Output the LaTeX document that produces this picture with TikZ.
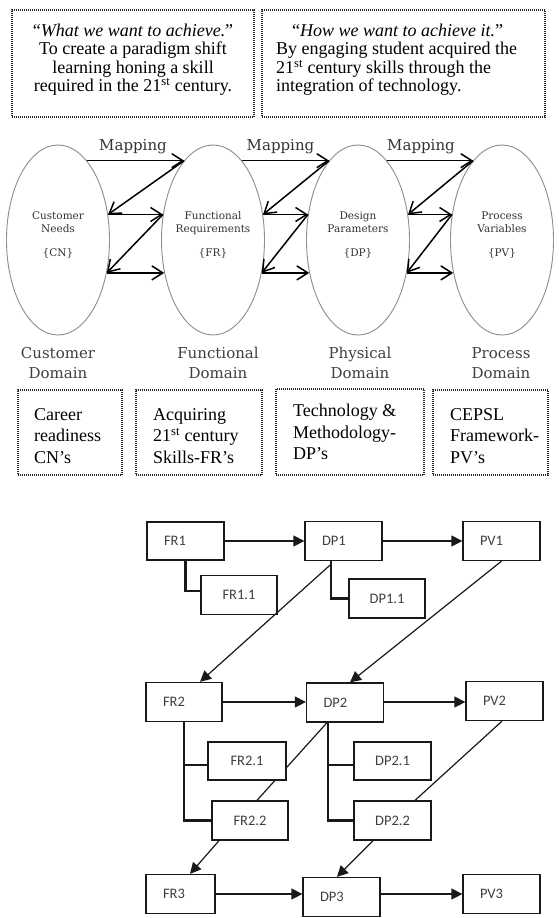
\documentclass[tikz,border=0pt]{standalone}
\usepackage{fontspec}
\setmainfont{Liberation Serif}
\newfontfamily\slabfont{DejaVu Serif}
\newfontfamily\calfont{Carlito}
\usetikzlibrary{arrows.meta,shapes.geometric,backgrounds}
\begin{document}
\begin{tikzpicture}[x=1pt,y=-1pt,
  dotbox/.style={draw=black!85, line width=1.1pt, dash pattern=on 1pt off 1pt, rectangle, inner sep=0pt},
  toptext/.style={inner sep=0pt, font=\fontsize{18}{18.6}\selectfont},
  rowtext/.style={inner sep=0pt, anchor=north west, align=left, font=\fontsize{18}{21.5}\selectfont},
  ellbox/.style={ellipse, draw=black!45, line width=0.9pt, minimum width=103pt, minimum height=190pt, inner sep=0pt},
  elltext/.style={inner sep=0pt, anchor=north, align=center, text=black!80, font=\slabfont\fontsize{10.5}{13}\selectfont},
  domtext/.style={inner sep=0pt, anchor=north, align=center, text=black!75, font=\slabfont\fontsize{15}{20}\selectfont},
  maptext/.style={inner sep=0pt, anchor=base, text=black!80, font=\slabfont\fontsize{15}{18}\selectfont},
  marrow/.style={line width=1.5pt, -{Straight Barb[length=11pt,width=14pt]}},
  fbox/.style={rectangle, draw=black!90, line width=1.3pt, fill=white, minimum height=39pt, inner sep=0pt, text=black!75, font=\calfont\fontsize{14.5}{17}\selectfont},
  mainb/.style={fbox, text width=43pt, inner xsep=17pt, align=left},
  subb/.style={fbox, minimum width=77pt, align=center},
  tree/.style={line width=2.4pt, black!90},
  diag/.style={line width=1.2pt, black!90},
  tipd/.style={diag, -{Triangle[length=11pt,width=11pt]}},
  harrow/.style={line width=1.4pt, black!90, -{Triangle[length=11pt,width=11pt]}}
]
\useasboundingbox (0,0) rectangle (558,918);

% ---------- top dotted boxes ----------
\node[dotbox, minimum width=242pt, minimum height=107pt] (top1) at (133,63.5) {};
\node[dotbox, minimum width=283pt, minimum height=107pt] (top2) at (403.5,63.5) {};
\node[toptext, align=center, anchor=north] (top1txt) at (133,23.5)
  {“\textit{What we want to achieve.}”\\To create a paradigm shift\\learning honing a skill\\required in the 21\textsuperscript{st} century.};
\node[toptext, align=left, anchor=north west] (top2txt) at (276,23.5)
  {\hspace*{16pt}“\textit{How we want to achieve it.}”\\By engaging student acquired the\\21\textsuperscript{st} century skills through the\\integration of technology.};

% ---------- domains ----------
\node[ellbox] (CN) at (58,240) {};
\node[ellbox] (FR) at (213,240) {};
\node[ellbox] (DP) at (358,240) {};
\node[ellbox] (PV) at (502,240) {};
\node[elltext] (CNt) at (58,211.8) {Customer\\Needs\\[10.5pt]\{CN\}};
\node[elltext] (FRt) at (213,211.8) {Functional\\Requirements\\[10.5pt]\{FR\}};
\node[elltext] (DPt) at (358,211.8) {Design\\Parameters\\[10.5pt]\{DP\}};
\node[elltext] (PVt) at (502,211.8) {Process\\Variables\\[10.5pt]\{PV\}};

\node[maptext] (map1) at (133,150) {Mapping};
\node[maptext] (map2) at (280.5,150) {Mapping};
\node[maptext] (map3) at (421,150) {Mapping};

\foreach \a/\b in {CN/FR, FR/DP, DP/PV} {
  \draw[marrow] (\a.70) -- (\b.110);
  \draw[marrow] (\b.110) -- (\a.27);
  \draw[marrow] (\a.27) -- (\b.153);
  \draw[marrow] (\b.153) -- (\a.-34);
  \draw[marrow] (\a.-34) -- (\b.-146);
}

\node[domtext] (CNd) at (58,347) {Customer\\Domain};
\node[domtext] (FRd) at (218,347) {Functional\\Domain};
\node[domtext] (DPd) at (360,347) {Physical\\Domain};
\node[domtext] (PVd) at (501,347) {Process\\Domain};

% ---------- second row of dotted boxes ----------
\node[dotbox, minimum width=104pt, minimum height=85pt] (b1) at (70,432.5) {};
\node[dotbox, minimum width=126pt, minimum height=85pt] (b2) at (199,432.5) {};
\node[dotbox, minimum width=148pt, minimum height=86pt] (b3) at (350,432) {};
\node[dotbox, minimum width=115pt, minimum height=85pt] (b4) at (490.5,432.5) {};
\node[rowtext] (b1txt) at (34,408) {Career\\readiness\\CN’s};
\node[rowtext] (b2txt) at (153,408) {Acquiring\\21\textsuperscript{st} century\\Skills-FR’s};
\node[rowtext] (b3txt) at (293,404) {Technology \&\\Methodology-\\DP’s};
\node[rowtext] (b4txt) at (450,408) {CEPSL\\Framework-\\PV’s};

% ---------- flow chart ----------
\node[mainb, minimum height=38pt] (FR1) at (185.5,541) {FR1};
\node[mainb] (DP1) at (343.5,541) {DP1};
\node[mainb] (PV1) at (501.5,541) {PV1};
\node[subb, minimum width=76pt] (FR11) at (239,595) {FR1.1};
\node[subb, minimum width=76pt] (DP11) at (387,598.5) {DP1.1};

\node[mainb, text width=42pt] (FR2) at (184,702) {FR2};
\node[mainb] (DP2) at (345,702.5) {DP2};
\node[mainb] (PV2) at (504.5,701) {PV2};
\node[subb, minimum width=78pt, minimum height=38pt] (FR21) at (247,761) {FR2.1};
\node[subb, minimum height=38pt] (DP21) at (392.5,761) {DP2.1};
\node[subb, minimum width=76pt] (FR22) at (250,820.5) {FR2.2};
\node[subb] (DP22) at (392.5,820.5) {DP2.2};

\node[mainb, text width=35pt] (FR3) at (180.5,894) {FR3};
\node[mainb] (DP3) at (341.5,897) {DP3};
\node[mainb] (PV3) at (501.5,894) {PV3};

% horizontal arrows
\draw[harrow] (FR1.east) -- (FR1.east -| DP1.west);
\draw[harrow] (DP1.east) -- (PV1.west);
\draw[harrow] (FR2.east) -- (FR2.east -| DP2.west);
\draw[harrow] (DP2.east |- FR2.east) -- (FR2.east -| PV2.west);
\draw[harrow] (FR3.east) -- (FR3.east -| DP3.west);
\draw[harrow] (PV3.west -| DP3.east) -- (PV3.west);

% tree lines
\draw[tree] (FR1.south) |- ([yshift=4pt]FR11.west);
\draw[tree] ([xshift=-12.5pt]DP1.south) |- (DP11.west);
\draw[tree] (FR2.south) |- (FR22.west);
\draw[tree] (FR2.south |- FR21.west) ++(0,4) -- ([yshift=-4pt]FR21.west);
\draw[tree] ([xshift=-17pt]DP2.south) |- (DP22.west);
\draw[tree] ([xshift=-17pt]DP2.south |- DP21.west) ++(0,4) -- ([yshift=-4pt]DP21.west);

% diagonal arrows
\draw[tipd] ([xshift=-13.5pt,yshift=-4pt]DP1.south) -- ([xshift=16pt]FR2.north);
\draw[tipd] (PV1.south) -- ([xshift=5pt]DP2.north);
\draw[tipd] ([xshift=-31pt]FR22.south) -- ([xshift=9.5pt]FR3.north);
\draw[tipd] ([xshift=-19.5pt]DP22.south) -- ([xshift=-4.5pt]DP3.north);

\begin{scope}[on background layer]
  \fill[white] (0,0) rectangle (558,918);
  \draw[diag] ([xshift=-18pt]DP2.south) -- ([xshift=7pt]FR22.north);
  \draw[diag] ([xshift=-2.5pt]PV2.south) -- ([xshift=22.5pt]DP22.north);
\end{scope}
\end{tikzpicture}
\end{document}
